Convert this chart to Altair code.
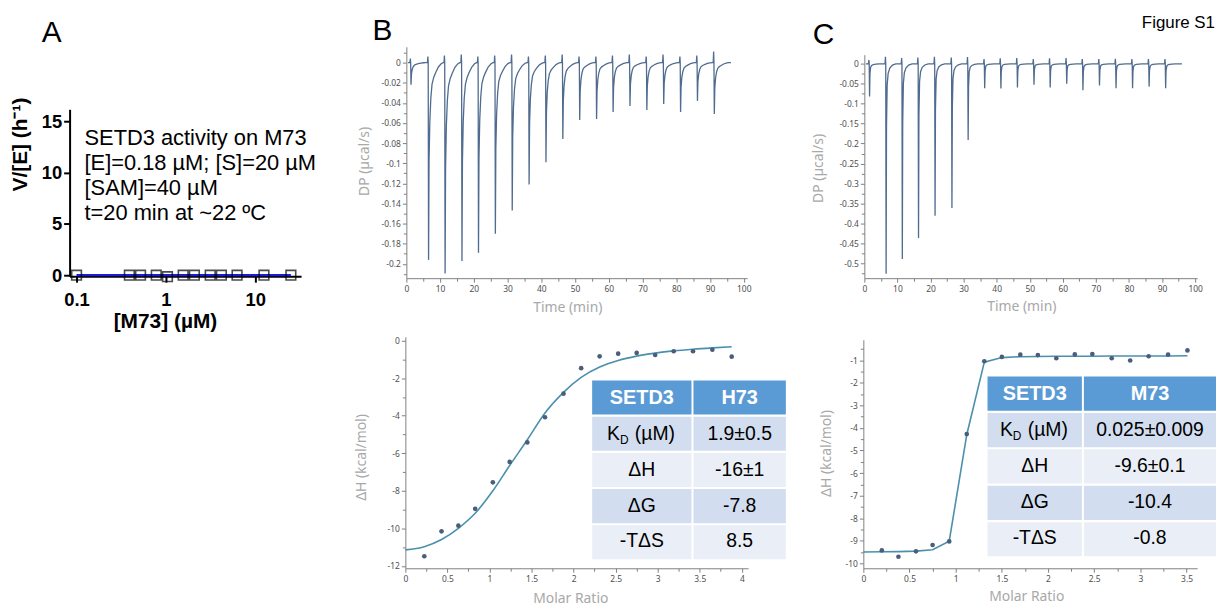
import altair as alt
import pandas as pd

# ------------------------------------------------------------------
# Page geometry (svg covers the page from its 8px margin)
# ------------------------------------------------------------------
W, H = 1218, 598
OX, OY = 8, 8


def px(v):
    return v - OX


def py(v):
    return v - OY


# ------------------------------------------------------------------
# DATA
# ------------------------------------------------------------------
# Panel A : SETD3 activity on M73 (Prism style)
A_CONC = [0.1, 0.39, 0.52, 0.78, 1.04, 1.56, 2.08, 3.13, 4.17, 6.25, 12.5, 25.0]
A_RATE = [0.0, 0.0, 0.0, 0.0, -0.15, 0.0, 0.0, 0.0, 0.0, 0.0, 0.0, 0.0]
A_FIT_CONC = [0.1, 25.0]
A_FIT_RATE = [0.0, 0.0]
A_NOTE = "SETD3 activity on M73\n[E]=0.18 µM; [S]=20 µM\n[SAM]=40 µM\nt=20 min at ~22 ºC"

# Panel B : ITC SETD3 + H73, raw thermogram
B_INJ_TIME = [1.3, 6.5, 11.4, 16.4, 21.3, 26.3, 31.3, 36.3, 41.3, 46.3, 51.3,
              56.3, 61.2, 66.2, 71.2, 76.2, 81.2, 86.2, 91.2]
B_INJ_PEAK = [-0.022, -0.196, -0.2095, -0.197, -0.189, -0.170, -0.147, -0.121,
              -0.099, -0.076, -0.057, -0.056, -0.049, -0.043, -0.047, -0.041,
              -0.049, -0.038, -0.051]
B_INJ_SPIKE = [0.004, 0.006, 0.007, 0.008, 0.006, 0.007, 0.008, 0.006, 0.007,
               0.008, 0.006, 0.006, 0.007, 0.008, 0.006, 0.008, 0.006, 0.007, 0.011]
B_PEAK_DT = [0.08, 0.22, 0.45, 0.75, 1.1, 1.6, 2.2, 3.0, 3.8, 4.4]
B_PEAK_FRAC = [1.0, 0.5, 0.3, 0.18, 0.11, 0.075, 0.05, 0.022, 0.006, 0.0]
B_TRACE_SPAN = [0.5, 96.2]

# Panel B : integrated heats
B_RATIO = [0.225, 0.43, 0.63, 0.83, 1.04, 1.24, 1.45, 1.66, 1.88, 2.09, 2.31,
           2.53, 2.75, 2.97, 3.19, 3.42, 3.65, 3.88]
B_DH = [-11.49, -10.16, -9.86, -8.96, -7.55, -6.46, -5.42, -4.08, -2.82, -1.46,
        -0.83, -0.69, -0.65, -0.76, -0.56, -0.56, -0.48, -0.85]
B_FIT_RATIO = [0.0, 0.225, 0.43, 0.63, 0.83, 1.04, 1.24, 1.45, 1.66, 1.88, 2.09,
               2.31, 2.53, 2.75, 2.97, 3.19, 3.42, 3.65, 3.88]
B_FIT_DH = [-11.15, -10.98, -10.6, -10.0, -9.2, -8.0, -6.65, -5.28, -3.85, -2.75,
            -1.95, -1.4, -1.05, -0.82, -0.66, -0.54, -0.45, -0.38, -0.32]
B_TABLE_HEAD = ["SETD3", "H73"]
B_TABLE_VALUES = ["1.9±0.5", "-16±1", "-7.8", "8.5"]

# Panel C : ITC SETD3 + M73, raw thermogram
C_INJ_TIME = [1.5, 6.5, 11.4, 16.3, 21.3, 26.4, 31.3, 36.3, 41.2, 46.2, 51.2,
              56.1, 61.1, 66.0, 71.0, 76.0, 81.0, 86.0, 91.0]
C_INJ_PEAK = [-0.082, -0.527, -0.49, -0.437, -0.381, -0.362, -0.191, -0.061,
              -0.062, -0.059, -0.052, -0.059, -0.05, -0.066, -0.054, -0.061,
              -0.061, -0.057, -0.061]
C_INJ_SPIKE = [0.01, 0.018, 0.015, 0.016, 0.018, 0.016, 0.017, 0.012, 0.014,
               0.015, 0.012, 0.014, 0.015, 0.012, 0.012, 0.013, 0.012, 0.012, 0.012]
C_PEAK_DT = [0.08, 0.2, 0.4, 0.7, 1.2, 2.0, 3.0]
C_PEAK_FRAC = [1.0, 0.3, 0.1, 0.045, 0.02, 0.006, 0.0]
C_TRACE_SPAN = [0.5, 96.0]

# Panel C : integrated heats
C_RATIO = [0.2, 0.38, 0.57, 0.75, 0.93, 1.12, 1.31, 1.5, 1.7, 1.89, 2.09, 2.29,
           2.48, 2.69, 2.89, 3.09, 3.3, 3.51]
C_DH = [-9.43, -9.71, -9.47, -9.19, -9.03, -4.27, -1.04, -0.85, -0.75, -0.77,
        -0.91, -0.74, -0.72, -0.91, -1.01, -0.82, -0.75, -0.56]
C_FIT_RATIO = [0.0, 0.2, 0.38, 0.57, 0.75, 0.93, 1.12, 1.31, 1.5, 1.7, 1.89, 2.09,
               2.29, 2.48, 2.69, 2.89, 3.09, 3.3, 3.51]
C_FIT_DH = [-9.5, -9.49, -9.48, -9.46, -9.4, -9.02, -4.3, -1.08, -0.88, -0.84,
            -0.83, -0.82, -0.82, -0.82, -0.81, -0.81, -0.81, -0.81, -0.8]
C_TABLE_HEAD = ["SETD3", "M73"]
C_TABLE_VALUES = ["0.025±0.009", "-9.6±0.1", "-10.4", "-0.8"]

TABLE_ROWS = ["head", "kd", "dh", "dg", "tds"]
TABLE_LABELS = ["KD (µM)", "ΔH", "ΔG", "-TΔS"]

# ------------------------------------------------------------------
# Styles
# ------------------------------------------------------------------
ITC_LINE = "#4f6b8f"
ITC_DOT = "#4b5d7c"
ITC_FIT = "#4a90ad"
ROW_FILL = ["#5b9bd5", "#d2deef", "#eaeff7", "#d2deef", "#eaeff7"]
TABLE_FONT = "Liberation Sans"

ITC_AXIS = dict(labelFont="Noto Sans", labelFontSize=8.5, labelColor="#505050",
                labelPadding=2, tickSize=4, tickColor="#808080", tickWidth=1,
                domainColor="#808080", domainWidth=1, titleFont="Noto Sans",
                titleFontSize=14, titleFontWeight="normal", titleColor="#a8a8a8")
PRISM_AXIS = dict(labelFont="Liberation Sans", labelFontSize=18.5, labelFontWeight="bold",
                  labelColor="black", tickSize=6, tickColor="black", tickWidth=2,
                  domainColor="black", domainWidth=2, titleFont="Liberation Sans",
                  titleFontSize=21, titleFontWeight="bold", titleColor="black")


def scale(dom, p0, p1, mapper, **kw):
    return alt.Scale(domain=dom, range=[mapper(p0), mapper(p1)], nice=False, zero=False, **kw)


def x_axis(line_y, values, style, title=None, tx=None, ty=None, pad=2, minor=False, tick=None):
    kw = dict(style)
    kw.update(orient="bottom", offset=py(line_y) - H, values=values, grid=False,
              labelFlush=False, labelOverlap=False)
    if minor:
        kw.update(labels=False, domain=False, tickSize=tick)
    else:
        kw.update(labelExpr="toString(datum.value)", labelPadding=pad, title=title,
                  titleX=px(tx), titleY=ty, titleBaseline="middle", titleAlign="center")
    return alt.Axis(**kw)


def y_axis(line_x, values, style, title=None, tx=None, ty=None, pad=2, minor=False, tick=None):
    kw = dict(style)
    kw.update(orient="left", offset=-px(line_x), values=values, grid=False, labelOverlap=False)
    if minor:
        kw.update(labels=False, domain=False, tickSize=tick)
    else:
        kw.update(labelExpr="toString(datum.value)", labelPadding=pad, title=title,
                  titleX=tx - line_x, titleY=py(ty), titleBaseline="middle",
                  titleAlign="center", titleAngle=-90)
    return alt.Axis(**kw)


def minor_layer(xsc, ysc, xaxis, yaxis, xv, yv):
    df = pd.DataFrame({"x": [xv], "y": [yv]})
    return alt.Chart(df).mark_point(opacity=0).encode(
        x=alt.X("x:Q", scale=xsc, axis=xaxis, title=None),
        y=alt.Y("y:Q", scale=ysc, axis=yaxis, title=None))


def trace_frame(times, peaks, spikes, dts, fracs, span):
    ts, vs = [span[0]], [0.0]
    for t, p, s in zip(times, peaks, spikes):
        ts += [t - 0.25, t - 0.12, t - 0.03]
        vs += [0.0, s, 0.0]
        for dt, f in zip(dts, fracs):
            ts.append(t + dt)
            vs.append(p * f)
    ts.append(span[1])
    vs.append(0.0)
    return pd.DataFrame({"t": ts, "dp": vs})


def seq(a, b, step):
    out, v = [], a
    while v <= b + 1e-9:
        out.append(round(v, 4))
        v += step
    return out


layers = []

# ------------------------------------------------------------------
# Panel A
# ------------------------------------------------------------------
ax_sc = scale([0.0836, 32.5], 70, 303, px, type="log")
ay_sc = scale([-0.1, 16.2], 276, 108, py)
a_pts = pd.DataFrame({"conc": A_CONC, "rate": A_RATE})
a_fit = pd.DataFrame({"conc": A_FIT_CONC, "rate": A_FIT_RATE})
layers.append(alt.Chart(a_fit).mark_line(color="#1c1cd6", strokeWidth=2.2).encode(
    x=alt.X("conc:Q", scale=ax_sc,
            axis=x_axis(276, [0.1, 1, 10], PRISM_AXIS, "[M73] (µM)", 166, 46, pad=8)),
    y=alt.Y("rate:Q", scale=ay_sc,
            axis=y_axis(70, [0, 5, 10, 15], PRISM_AXIS, "V/[E] (h⁻¹)", 21, 143, pad=2))))
layers.append(alt.Chart(a_pts).mark_point(shape="square", filled=False, size=95,
                                          color="black", strokeWidth=1.6).encode(
    x=alt.X("conc:Q", scale=ax_sc, axis=None),
    y=alt.Y("rate:Q", scale=ay_sc, axis=None)))
layers.append(alt.Chart(pd.DataFrame({"conc": [0.1227], "rate": [12.7], "txt": [A_NOTE]}))
              .mark_text(align="left", baseline="alphabetic", font="Liberation Sans",
                         fontSize=22, lineBreak="\n", lineHeight=25, color="black")
              .encode(x=alt.X("conc:Q", scale=ax_sc, axis=None),
                      y=alt.Y("rate:Q", scale=ay_sc, axis=None), text="txt:N"))

# ------------------------------------------------------------------
# ITC panels
# ------------------------------------------------------------------
def table_layers(head, values, col1, col2, top, bottom):
    ysc = alt.Scale(domain=TABLE_ROWS, range=[py(top), py(bottom)], paddingInner=0.06, paddingOuter=0)
    res = []
    for name, (c0, c1), texts in (("c1", col1, [head[0]] + TABLE_LABELS),
                                  ("c2", col2, [head[1]] + values)):
        xsc = alt.Scale(domain=[name], range=[px(c0), px(c1)], paddingInner=0, paddingOuter=0)
        df = pd.DataFrame({"col": [name] * 5, "row": TABLE_ROWS, "txt": texts})
        base = alt.Chart(df).encode(x=alt.X("col:N", scale=xsc, axis=None),
                                    y=alt.Y("row:N", scale=ysc, axis=None))
        res.append(base.mark_rect().encode(
            color=alt.Color("row:N", scale=alt.Scale(domain=TABLE_ROWS, range=ROW_FILL), legend=None)))
        res.append(base.mark_text(font=TABLE_FONT, fontSize=20, fontWeight="bold", color="white",
                                  baseline="middle").encode(text="txt:N")
                   .transform_filter("datum.row == 'head'"))
        res.append(base.mark_text(font=TABLE_FONT, fontSize=19.5, color="black", baseline="middle")
                   .encode(text="txt:N")
                   .transform_filter("datum.row != 'head' && !(datum.col == 'c1' && datum.row == 'kd')"))
        if name == "c1":
            kd = pd.DataFrame({"col": [name], "row": ["kd"]})
            kbase = alt.Chart(kd).encode(x=alt.X("col:N", scale=xsc, axis=None),
                                         y=alt.Y("row:N", scale=ysc, axis=None))
            res.append(kbase.mark_text(font=TABLE_FONT, fontSize=19.5, color="black", align="left",
                                       baseline="middle", dx=-35, text="K"))
            res.append(kbase.mark_text(font=TABLE_FONT, fontSize=12, color="black", align="left",
                                       baseline="middle", dx=-22, dy=5.5, text="D"))
            res.append(kbase.mark_text(font=TABLE_FONT, fontSize=19.5, color="black", align="left",
                                       baseline="middle", dx=-7, text="(µM)"))
    return res


def itc_panels(raw, heat, fit, geo, table):
    out = []
    # raw thermogram
    (x0, x1, xd), (yb, yt, yd), xt, yt_, xmaj, xmin, ymaj, ymin = raw["geo"]
    xs = scale(xd, x0, x1, px)
    ys = scale(yd, yb, yt, py)
    out.append(alt.Chart(raw["df"]).mark_line(color=ITC_LINE, strokeWidth=1.3).encode(
        x=alt.X("t:Q", scale=xs, axis=x_axis(yb, xmaj, ITC_AXIS, "Time (min)", xt[0], xt[1])),
        y=alt.Y("dp:Q", scale=ys, axis=y_axis(x0, ymaj, ITC_AXIS, "DP (µcal/s)", yt_[0], yt_[1]))))
    out.append(minor_layer(xs, ys,
                           x_axis(yb, xmin, ITC_AXIS, minor=True, tick=3),
                           y_axis(x0, ymin, ITC_AXIS, minor=True, tick=3),
                           xmin[0], ymin[0]))
    # integrated heats
    (x0, x1, xd), (yb, yt, yd), xt, yt_, xmaj, xmin, ymaj, ymin = geo
    xs = scale(xd, x0, x1, px)
    ys = scale(yd, yb, yt, py)
    out.append(alt.Chart(fit).mark_line(color=ITC_FIT, strokeWidth=1.6, interpolate=heat["interp"]).encode(
        x=alt.X("r:Q", scale=xs, axis=x_axis(yb, xmaj, ITC_AXIS, "Molar Ratio", xt[0], xt[1])),
        y=alt.Y("h:Q", scale=ys, axis=y_axis(x0, ymaj, ITC_AXIS, "ΔH (kcal/mol)", yt_[0], yt_[1]))))
    out.append(alt.Chart(heat["df"]).mark_circle(color=ITC_DOT, size=22, opacity=1).encode(
        x=alt.X("r:Q", scale=xs, axis=None),
        y=alt.Y("h:Q", scale=ys, axis=None)))
    out.append(minor_layer(xs, ys,
                           x_axis(yb, xmin, ITC_AXIS, minor=True, tick=3),
                           y_axis(x0, ymin, ITC_AXIS, minor=True, tick=3),
                           xmin[0], ymin[0]))
    out += table_layers(*table)
    return out


b_raw = {"df": trace_frame(B_INJ_TIME, B_INJ_PEAK, B_INJ_SPIKE, B_PEAK_DT, B_PEAK_FRAC, B_TRACE_SPAN),
         "geo": ((409, 752, [0, 101]), (278, 45, [-0.2142, 0.0158]), (571, 30), (367, 160),
                 seq(0, 100, 10), seq(5, 95, 10),
                 [0, -0.02, -0.04, -0.06, -0.08, -0.1, -0.12, -0.14, -0.16, -0.18, -0.2],
                 [0.01, -0.01, -0.03, -0.05, -0.07, -0.09, -0.11, -0.13, -0.15, -0.17, -0.19, -0.21])}
b_heat = {"df": pd.DataFrame({"r": B_RATIO, "h": B_DH}), "interp": "monotone"}
b_fit = pd.DataFrame({"r": B_FIT_RATIO, "h": B_FIT_DH})
b_geo = ((408, 753, [0, 4.075]), (570, 337, [-12.13, 0.21]), (574, 30), (364, 458),
         [0, 0.5, 1, 1.5, 2, 2.5, 3, 3.5, 4], [0.25, 0.75, 1.25, 1.75, 2.25, 2.75, 3.25, 3.75],
         [0, -2, -4, -6, -8, -10, -12], [-1, -3, -5, -7, -9, -11])
layers += itc_panels(b_raw, b_heat, b_fit, b_geo,
                     (B_TABLE_HEAD, B_TABLE_VALUES, (596, 696), (698, 791), 381, 561))

c_raw = {"df": trace_frame(C_INJ_TIME, C_INJ_PEAK, C_INJ_SPIKE, C_PEAK_DT, C_PEAK_FRAC, C_TRACE_SPAN),
         "geo": ((870, 1205, [0, 100.6]), (278, 53, [-0.538, 0.0232]), (1028, 29), (824, 167),
                 seq(0, 100, 10), seq(5, 95, 10),
                 [0, -0.05, -0.1, -0.15, -0.2, -0.25, -0.3, -0.35, -0.4, -0.45, -0.5],
                 [0.025, -0.025, -0.075, -0.125, -0.175, -0.225, -0.275, -0.325, -0.375,
                  -0.425, -0.475, -0.525])}
c_heat = {"df": pd.DataFrame({"r": C_RATIO, "h": C_DH}), "interp": "linear"}
c_fit = pd.DataFrame({"r": C_FIT_RATIO, "h": C_FIT_DH})
c_geo = ((869, 1205, [0, 3.615]), (570, 340, [-10.22, -0.09]), (1033, 28), (832, 454),
         [0, 0.5, 1, 1.5, 2, 2.5, 3, 3.5], [0.25, 0.75, 1.25, 1.75, 2.25, 2.75, 3.25],
         [-1, -2, -3, -4, -5, -6, -7, -8, -9, -10],
         [-0.5, -1.5, -2.5, -3.5, -4.5, -5.5, -6.5, -7.5, -8.5, -9.5])
layers += itc_panels(c_raw, c_heat, c_fit, c_geo,
                     (C_TABLE_HEAD, C_TABLE_VALUES, (994, 1089), (1091, 1224), 377, 558))

# ------------------------------------------------------------------
# Panel letters and figure label
# ------------------------------------------------------------------
LETTERS = pd.DataFrame({"txt": ["A", "B", "C"]})
for letter, lx, ly in (("A", 42, 40), ("B", 375, 38), ("C", 818, 42)):
    layers.append(alt.Chart(LETTERS).transform_filter(f"datum.txt == '{letter}'")
                  .mark_text(font="Liberation Sans", fontSize=30, align="left",
                             baseline="alphabetic", color="black")
                  .encode(x=alt.value(px(lx)), y=alt.value(py(ly)), text="txt:N"))
layers.append(alt.Chart(pd.DataFrame({"txt": ["Figure S1"]}))
              .mark_text(font="Liberation Sans", fontSize=17, align="right",
                         baseline="alphabetic", color="black")
              .encode(x=alt.value(px(1223)), y=alt.value(py(26)), text="txt:N"))

chart = (alt.layer(*layers)
         .resolve_scale(x="independent", y="independent", color="independent")
         .properties(width=W, height=H, padding=0,
                     autosize=alt.AutoSizeParams(type="none"))
         .configure_view(stroke=None)
         .configure_axis(grid=False))

chart.save("out.html", embed_options={"renderer": "svg", "actions": False})
